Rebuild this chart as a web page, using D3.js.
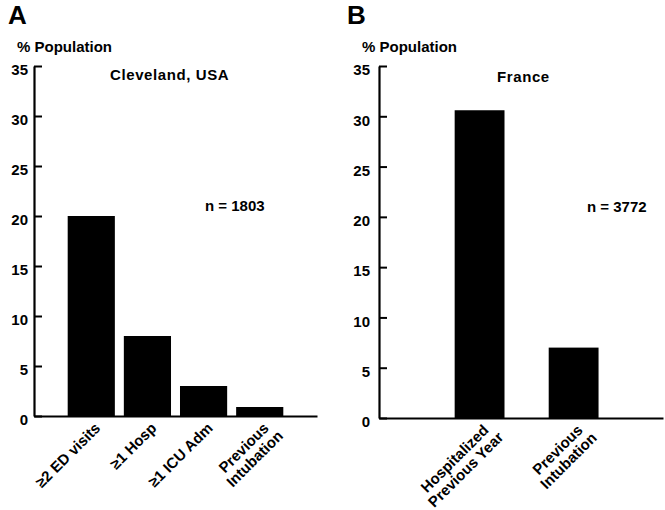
<!DOCTYPE html>
<html>
<head>
<meta charset="utf-8">
<script src="https://cdn.jsdelivr.net/npm/d3@7/dist/d3.min.js"></script>
<style>
  body { margin: 0; background: #fff; }
</style>
</head>
<body>
<script>
// data
const catsA = ["≥2 ED visits", "≥1 Hosp", "≥1 ICU Adm", "Previous\nIntubation"];
const valsA = [20, 8, 3, 0.9];
const catsB = ["Hospitalized\nPrevious Year", "Previous\nIntubation"];
const valsB = [30.6, 7];
const yTicks = [0, 5, 10, 15, 20, 25, 30, 35];
const yMax = 35;

const FONT = "'Liberation Sans', Arial, Helvetica, sans-serif";

const svg = d3.select("body").append("svg")
  .attr("width", 665)
  .attr("height", 510)
  .style("background", "#fff");

const panels = [
  {
    letter: "A", letterX: 8, letterY: 24,
    ylabX: 17, ylabY: 52,
    title: "Cleveland, USA", titleX: 110, titleY: 80,
    note: "n = 1803", noteX: 205, noteY: 211,
    cats: catsA, vals: valsA,
    left: 34, right: 317, y0: 416, yTop: 66,
    padIn: 0.16, padOut: 0.6, align: 0.5, tickPad: 6
  },
  {
    letter: "B", letterX: 347, letterY: 24,
    ylabX: 362, ylabY: 52,
    title: "France", titleX: 497, titleY: 82,
    note: "n = 3772", noteX: 587, noteY: 212,
    cats: catsB, vals: valsB,
    left: 379, right: 663, y0: 418, yTop: 66,
    padIn: 0.47, padOut: 0.745, align: 0.54, tickPad: 9
  }
];

function boldText(g, x, y, str, size) {
  return g.append("text")
    .attr("x", x)
    .attr("y", y)
    .attr("font-family", FONT)
    .attr("font-weight", "bold")
    .attr("font-size", size)
    .attr("fill", "#000")
    .text(str);
}

function drawPanel(p) {
  const g = svg.append("g");

  const y = d3.scaleLinear().domain([0, yMax]).range([p.y0, p.yTop]);
  const x = d3.scaleBand()
    .domain(p.cats)
    .range([p.left, p.right])
    .paddingInner(p.padIn)
    .paddingOuter(p.padOut)
    .align(p.align);

  // bars
  g.append("g")
    .selectAll("rect")
    .data(p.vals)
    .join("rect")
    .attr("x", (d, i) => x(p.cats[i]))
    .attr("y", d => y(d))
    .attr("width", x.bandwidth())
    .attr("height", d => y(0) - y(d))
    .attr("fill", "#000");

  // x axis (just the baseline)
  const xAx = g.append("g")
    .attr("transform", "translate(0," + p.y0 + ")")
    .call(d3.axisBottom(x).tickSize(0).tickSizeOuter(0));
  xAx.selectAll(".tick").remove();
  xAx.select(".domain").attr("stroke", "#000").attr("stroke-width", 2.2);

  // y axis, ticks pointing inward
  const yAx = g.append("g")
    .attr("transform", "translate(" + p.left + ",0)")
    .call(d3.axisLeft(y).tickValues(yTicks).tickSize(-8).tickSizeOuter(0).tickPadding(p.tickPad));
  yAx.attr("font-family", FONT).attr("font-size", 15).attr("font-weight", "bold");
  yAx.select(".domain").attr("stroke", "#000").attr("stroke-width", 2.2);
  yAx.selectAll(".tick line").attr("stroke", "#000").attr("stroke-width", 2);
  yAx.selectAll(".tick text").attr("fill", "#000").attr("y", 4);

  // rotated category labels, lines centred on the first one
  p.cats.forEach(c => {
    const lines = c.split("\n");
    const lg = g.append("g")
      .attr("transform", "translate(" + (x(c) + x.bandwidth() / 2 + 10) + "," + (p.y0 + 13) + ") rotate(-45)");
    const texts = lines.map((ln, i) => boldText(lg, 0, i * 15.5, ln, 15).attr("text-anchor", "middle"));
    const w0 = texts[0].node().getComputedTextLength();
    texts.forEach(t => t.attr("x", -w0 / 2));
  });

  boldText(g, p.letterX, p.letterY, p.letter, 26);
  boldText(g, p.ylabX, p.ylabY, "% Population", 15);
  boldText(g, p.titleX, p.titleY, p.title, 15).attr("letter-spacing", 0.6);
  boldText(g, p.noteX, p.noteY, p.note, 15);
}

panels.forEach(drawPanel);
</script>
</body>
</html>
